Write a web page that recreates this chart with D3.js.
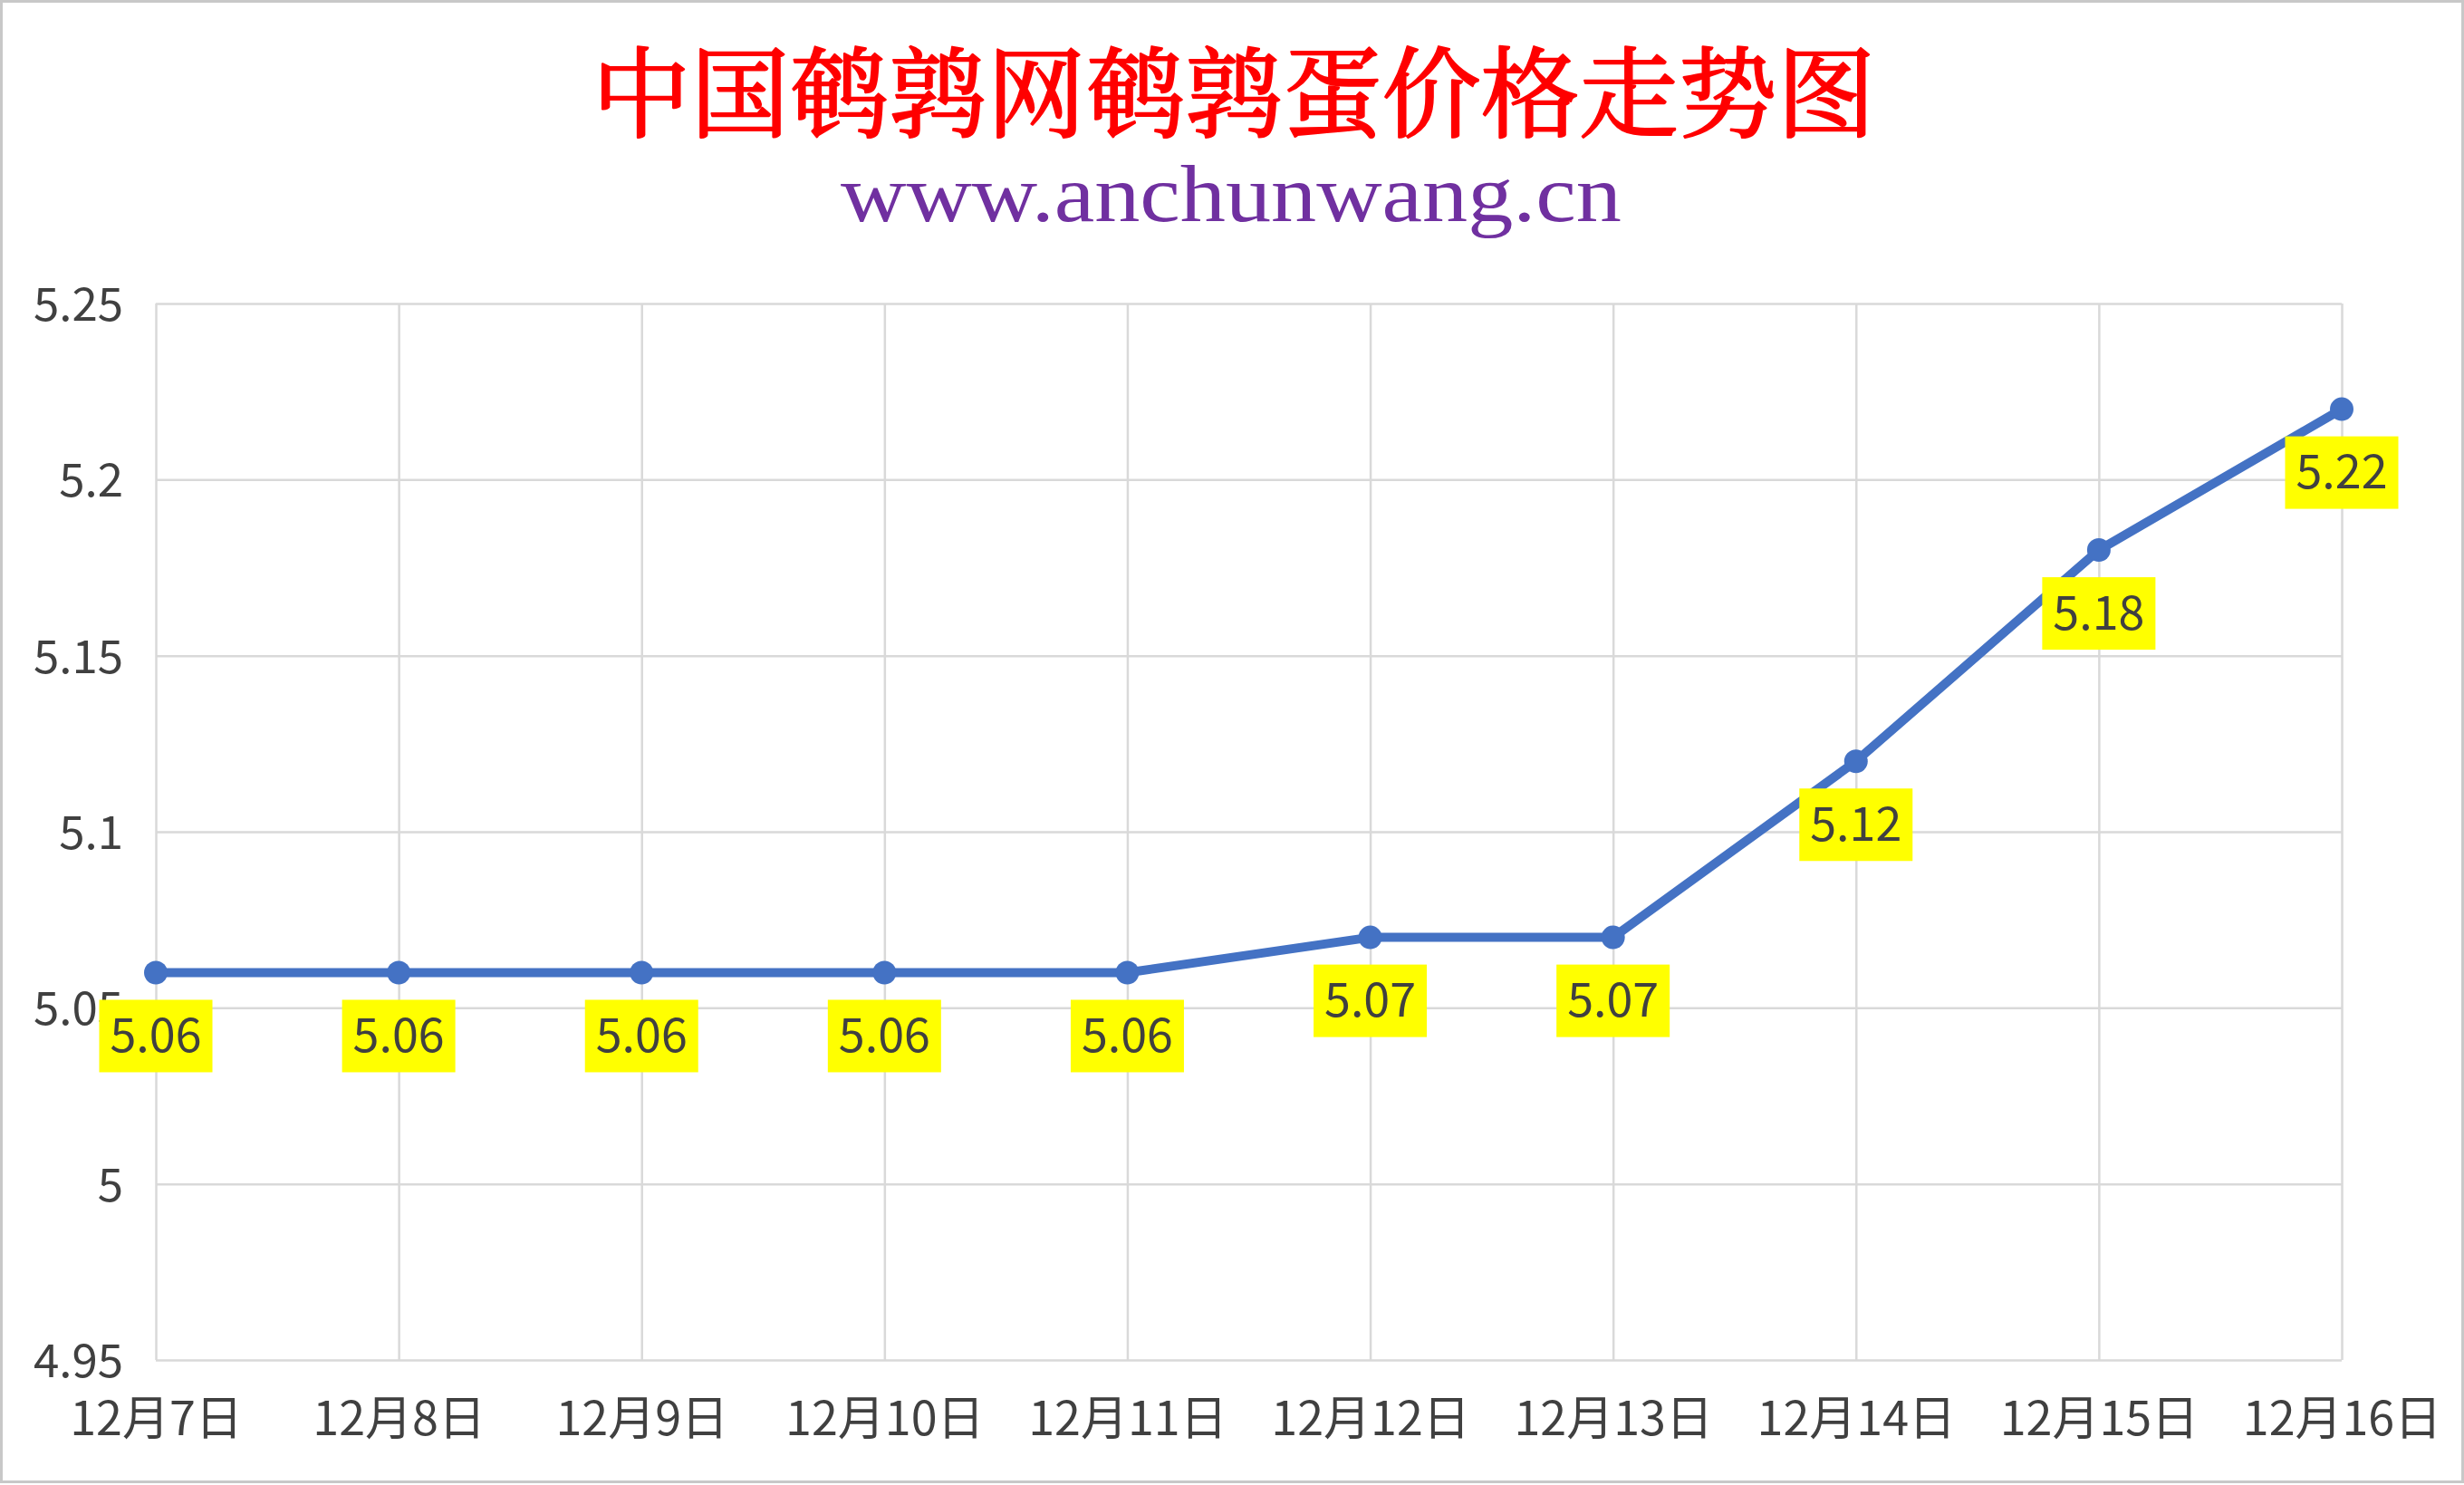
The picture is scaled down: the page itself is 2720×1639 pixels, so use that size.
<!DOCTYPE html>
<head>
  <meta charset="utf-8">
  <script src="https://cdn.jsdelivr.net/npm/d3@7/dist/d3.min.js"></script>
  <style>
    body { margin: 0; background: #fff; }
    svg { display: block; }
  </style>
</head>
<body>
  <svg width="2720" height="1639"></svg>
  <script>
    // chart data
    var titleText = "中国鹌鹑网鹌鹑蛋价格走势图";
    var subtitleText = "www.anchunwang.cn";
    var dates = ["12月7日", "12月8日", "12月9日", "12月10日", "12月11日",
                 "12月12日", "12月13日", "12月14日", "12月15日", "12月16日"];
    var prices = [5.06, 5.06, 5.06, 5.06, 5.06, 5.07, 5.07, 5.12, 5.18, 5.22];
    var yTicks = [4.95, 5, 5.05, 5.1, 5.15, 5.2, 5.25];

    var svg = d3.select("svg"),
        width = +svg.attr("width"),
        height = +svg.attr("height");

    // plot area edges (window.top is reserved, so prefix them)
    var plotL = 172, plotR = 2585, plotT = 335, plotB = 1501;
    var font = "'Noto Sans CJK SC', 'Noto Sans', sans-serif";

    var x = d3.scalePoint().domain(dates).range([plotL, plotR]).padding(0);
    var y = d3.scaleLinear().domain([4.95, 5.25]).range([plotB, plotT]);

    // outer border
    svg.append("rect")
      .attr("x", 1.5).attr("y", 1.5)
      .attr("width", width - 3).attr("height", 1634)
      .attr("fill", "#fff")
      .attr("stroke", "#c8c8c8")
      .attr("stroke-width", 3);

    // titles - regular serif with a thin outline to get a medium weight
    svg.append("text")
      .attr("x", 1362).attr("y", 143)
      .attr("text-anchor", "middle")
      .style("font-family", "'Noto Serif CJK SC', 'Noto Sans CJK SC', serif")
      .style("font-size", "109px")
      .attr("fill", "#ff0000")
      .attr("stroke", "#ff0000")
      .attr("stroke-width", 2.2)
      .attr("stroke-linejoin", "round")
      .text(titleText);

    svg.append("text")
      .attr("x", 1359).attr("y", 244)
      .attr("text-anchor", "middle")
      .attr("textLength", 862)
      .attr("lengthAdjust", "spacingAndGlyphs")
      .style("font-family", "'Liberation Serif', serif")
      .style("font-size", "88px")
      .attr("fill", "#7030a0")
      .text(subtitleText);

    // y gridlines + labels
    var yAxis = svg.append("g")
      .attr("transform", "translate(" + plotL + ",0)")
      .call(d3.axisLeft(y)
        .tickValues(yTicks)
        .tickFormat(d3.format(""))
        .tickSizeInner(-(plotR - plotL))
        .tickSizeOuter(0)
        .tickPadding(36));
    yAxis.select(".domain").remove();
    yAxis.selectAll("line").attr("stroke", "#d9d9d9").attr("stroke-width", 2.5);
    yAxis.selectAll("text")
      .attr("dy", "0.36em")
      .attr("fill", "#404040")
      .style("font-family", font)
      .style("font-size", "51px");

    // x gridlines + labels
    var xAxis = svg.append("g")
      .attr("transform", "translate(0," + plotB + ")")
      .call(d3.axisBottom(x)
        .tickSizeInner(-(plotB - plotT))
        .tickSizeOuter(0)
        .tickPadding(0));
    xAxis.select(".domain").remove();
    xAxis.selectAll("line").attr("stroke", "#d9d9d9").attr("stroke-width", 2.5);
    xAxis.selectAll("text")
      .attr("y", 83)
      .attr("dy", null)
      .attr("fill", "#404040")
      .style("font-family", font)
      .style("font-size", "52px");

    // price line
    var line = d3.line()
      .x(function (d, i) { return x(dates[i]); })
      .y(function (d) { return y(d); });

    svg.append("path")
      .datum(prices)
      .attr("fill", "none")
      .attr("stroke", "#4472c4")
      .attr("stroke-width", 10)
      .attr("stroke-linejoin", "round")
      .attr("d", line);

    svg.selectAll(".dot")
      .data(prices)
      .enter().append("circle")
      .attr("class", "dot")
      .attr("cx", function (d, i) { return x(dates[i]); })
      .attr("cy", function (d) { return y(d); })
      .attr("r", 13)
      .attr("fill", "#4472c4");

    // data labels in yellow boxes below the points
    var lbl = svg.selectAll(".lbl")
      .data(prices)
      .enter().append("g")
      .attr("class", "lbl")
      .attr("transform", function (d, i) {
        return "translate(" + x(dates[i]) + "," + (y(d) + 70) + ")";
      });

    lbl.append("rect")
      .attr("x", -62.5).attr("y", -40)
      .attr("width", 125).attr("height", 80)
      .attr("fill", "#ffff00");

    lbl.append("text")
      .attr("text-anchor", "middle")
      .attr("dy", "0.34em")
      .attr("fill", "#404040")
      .style("font-family", font)
      .style("font-size", "52px")
      .text(function (d) { return d3.format(".2f")(d); });
  </script>
</body>
